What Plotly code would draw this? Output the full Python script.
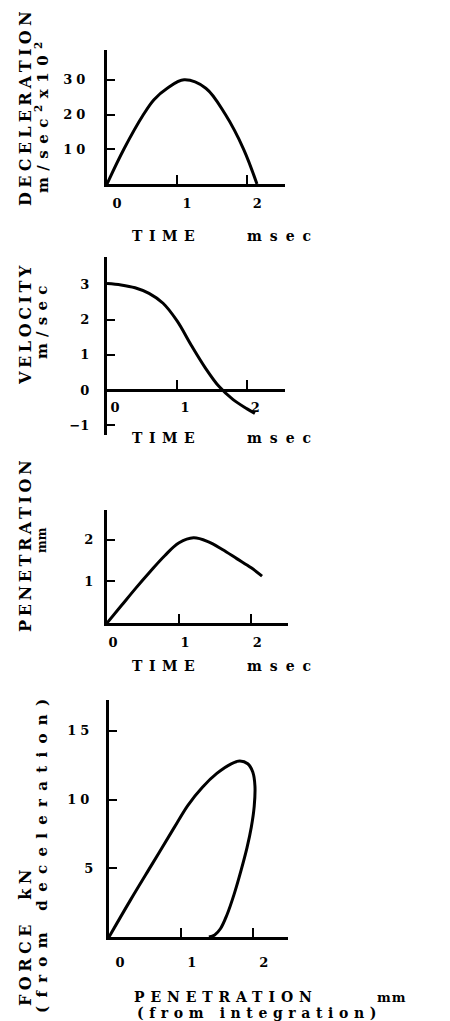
import plotly.graph_objects as go

W, H = 450, 1021

# ---- data ----
decel_time = [0, 0.24, 0.52, 0.67, 0.86, 1.10, 1.41, 1.69, 1.95, 2.14]
decel_value = [0, 10.0, 20.0, 24.3, 27.6, 30.0, 27.6, 20.0, 10.0, 0]

vel_time = [0, 0.2, 0.4, 0.6, 0.8, 1.0, 1.2, 1.4, 1.6, 1.8, 2.0, 2.11]
vel_value = [3.02, 2.98, 2.90, 2.74, 2.46, 1.96, 1.28, 0.64, 0.10, -0.27, -0.53, -0.66]

pen_time = [0, 0.2, 0.4, 0.6, 0.8, 1.0, 1.2, 1.4, 1.6, 1.8, 2.0, 2.15]
pen_value = [0, 0.42, 0.84, 1.24, 1.62, 1.93, 2.05, 1.96, 1.77, 1.55, 1.33, 1.13]

force_pen = [0, 0.3, 0.6, 0.9, 1.1, 1.3, 1.5, 1.7, 1.82, 1.93, 2.0, 2.03,
             2.02, 1.98, 1.92, 1.84, 1.74, 1.64, 1.55, 1.47, 1.39]
force_kn = [0, 2.7, 5.3, 7.9, 9.6, 10.9, 11.9, 12.6, 12.8, 12.6, 12.0, 11.0,
            9.5, 8.0, 6.5, 4.9, 3.1, 1.6, 0.6, 0.15, 0]

x_ticks = [0, 1, 2]
x_ticklabels = ["0", "1", "2"]
decel_ticks = [10, 20, 30]
decel_ticklabels = ["10", "20", "30"]
vel_ticks = [-1, 0, 1, 2, 3]
vel_ticklabels = ["\u22121", "0", "1", "2", "3"]
pen_ticks = [1, 2]
pen_ticklabels = ["1", "2"]
force_ticks = [5, 10, 15]
force_ticklabels = ["5", "10", "15"]

FONT = "DejaVu Serif"


def sp(t, s):
    return f"<span style='letter-spacing:{s}px'>{t}</span>"


def dom_x(l, r):
    return [l / W, r / W]


def dom_y(t, b):
    return [1 - b / H, 1 - t / H]


fig = go.Figure()

series = [
    (decel_time, decel_value),
    (vel_time, vel_value),
    (pen_time, pen_value),
    (force_pen, force_kn),
]
for i, (xs, ys) in enumerate(series):
    sfx = "" if i == 0 else str(i + 1)
    fig.add_trace(go.Scatter(
        x=xs, y=ys, mode="lines",
        line=dict(color="black", width=3, shape="spline", smoothing=1.0),
        xaxis="x" + sfx, yaxis="y" + sfx, hoverinfo="skip",
    ))

# panel boxes (pixels): left, right, top, bottom ; ranges
panels = [
    dict(x=(107, 285), y=(50, 184), xr=[0, 2.54], yr=[0, 38.6],
         yt=decel_ticks, ytl=[sp(t, 4) for t in decel_ticklabels], ystand=12, xshift=10, xstand=5),
    dict(x=(107, 285), y=(257, 435), xr=[0, 2.54], yr=[-1.27, 3.77],
         yt=vel_ticks, ytl=vel_ticklabels, ystand=12, xshift=8, xstand=4),
    dict(x=(107, 288), y=(510, 623), xr=[0, 2.51], yr=[0, 2.72],
         yt=pen_ticks, ytl=pen_ticklabels, ystand=8, xshift=6, xstand=5),
    dict(x=(109, 288), y=(700, 937), xr=[0, 2.49], yr=[0, 17.24],
         yt=force_ticks, ytl=[sp(t, 4) if len(t) > 1 else t for t in force_ticklabels],
         ystand=10, xshift=11, xstand=11),
]

tickfont = dict(family=FONT, size=13, color="black", weight="bold")
layout = {}
for i, p in enumerate(panels):
    sfx = "" if i == 0 else str(i + 1)
    ydom = dom_y(*p["y"])
    xa = dict(
        domain=dom_x(*p["x"]), range=p["xr"], anchor="y" + sfx,
        showgrid=False, zeroline=False, showline=True, linecolor="black", linewidth=3,
        ticks="inside", ticklen=9, tickwidth=2, tickcolor="black",
        tickvals=x_ticks, ticktext=x_ticklabels, tickfont=tickfont,
        ticklabelshift=p["xshift"], ticklabelstandoff=p["xstand"], fixedrange=True,
    )
    if p["yr"][0] < 0:
        ymin, ymax = p["yr"]
        pos = ydom[0] + (0 - ymin) / (ymax - ymin) * (ydom[1] - ydom[0])
        xa["anchor"] = "free"
        xa["position"] = pos
    ya = dict(
        domain=ydom, range=p["yr"], anchor="x" + sfx,
        showgrid=False, zeroline=False, showline=True, linecolor="black", linewidth=3,
        ticks="inside", ticklen=8, tickwidth=2, tickcolor="black",
        tickvals=p["yt"], ticktext=p["ytl"], tickfont=tickfont,
        ticklabelstandoff=p["ystand"], fixedrange=True,
    )
    layout["xaxis" + sfx] = xa
    layout["yaxis" + sfx] = ya

ann = []


def add(text, xpx, ypx, size=14, angle=0, align="center"):
    ann.append(dict(
        text=text, x=xpx / W, y=1 - ypx / H, xref="paper", yref="paper",
        xanchor="center", yanchor="middle", showarrow=False, textangle=angle,
        align=align, font=dict(family=FONT, size=size, color="black", weight="bold"),
    ))


# horizontal titles
for ty in (236, 438, 666):
    add(sp("TIME", 6.5), 166, ty)
    add(sp("msec", 8), 283, ty)
add(sp("PENETRATION", 5.9), 226, 997)
add(sp("mm", 1), 392, 997, size=13)
add(sp("(from integration)", 5.6), 259, 1013)

# vertical titles
add(sp("DECELERATION", 4.3), 25, 107, size=16, angle=-90)
add(sp("m/sec<sup>2</sup>x10<sup>2</sup>", 6.5), 42, 114, size=15, angle=-90)
add(sp("VELOCITY", 3.6), 25, 324, size=16, angle=-90)
add(sp("m/sec", 6.2), 42, 320, size=15, angle=-90)
add(sp("PENETRATION", 3.6), 25, 545, size=16, angle=-90)
add("mm", 42, 540, size=12, angle=-90)
add(sp("FORCE&nbsp;&nbsp;kN", 4.5), 25, 936, size=16, angle=-90)
add(sp("(from deceleration)", 8.3), 42, 852, size=15, angle=-90)

fig.update_layout(
    width=W, height=H, margin=dict(l=0, r=0, t=0, b=0),
    paper_bgcolor="white", plot_bgcolor="white", showlegend=False,
    annotations=ann, **layout,
)

fig.write_html(
    "out.html",
    config={"displayModeBar": False, "staticPlot": True},
    post_script="document.body.style.margin='0px';document.body.style.overflow='hidden';",
)
